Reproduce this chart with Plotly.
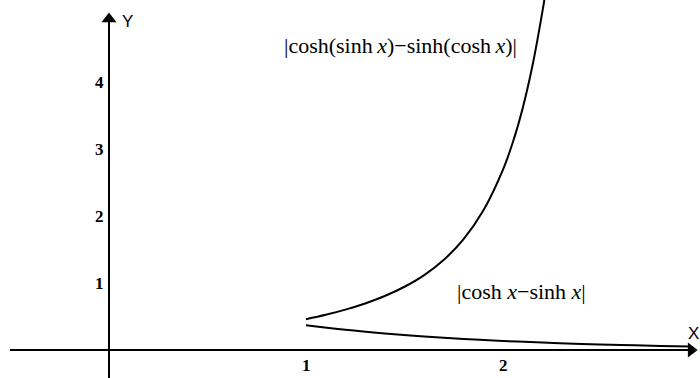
import plotly.graph_objects as go

# Curve data
x_upper = [1.0, 1.1, 1.2, 1.3, 1.4, 1.5, 1.6, 1.7, 1.8, 1.9, 2.0, 2.05, 2.1, 2.15, 2.2, 2.23]
y_upper = [0.459, 0.525, 0.603, 0.695, 0.806, 0.944, 1.118, 1.347, 1.655, 2.082, 2.693, 3.10, 3.61, 4.25, 5.05, 5.6]

x_lower = [1.0, 1.2, 1.4, 1.6, 1.8, 2.0, 2.2, 2.4, 2.6, 2.8, 2.95]
y_lower = [0.368, 0.301, 0.247, 0.202, 0.165, 0.135, 0.111, 0.091, 0.074, 0.061, 0.052]

x_ticks = [1, 2]
x_tick_labels = ["1", "2"]
y_ticks = [1, 2, 3, 4]
y_tick_labels = ["1", "2", "3", "4"]

label_upper = "|cosh(sinh\u2009<i>x</i>)\u2212sinh(cosh\u2009<i>x</i>)|"
label_lower = "|cosh <i>x</i>\u2212sinh <i>x</i>|"

X_MIN, X_MAX = -109 / 197, (700 - 109) / 197
Y_MIN, Y_MAX = (350 - 378) / 67, 350 / 67

fig = go.Figure()

# axes
fig.add_trace(go.Scatter(x=[-0.503, 2.955], y=[0, 0], mode="lines",
                         line=dict(color="black", width=2), hoverinfo="skip"))
fig.add_trace(go.Scatter(x=[0, 0], y=[Y_MIN, 4.95], mode="lines",
                         line=dict(color="black", width=2), hoverinfo="skip"))
# arrow heads
fig.add_trace(go.Scatter(x=[2.955], y=[0], mode="markers",
                         marker=dict(symbol="triangle-right", size=13, color="black"), hoverinfo="skip"))
fig.add_trace(go.Scatter(x=[0], y=[4.94], mode="markers",
                         marker=dict(symbol="triangle-up", size=13, color="black"), hoverinfo="skip"))

# curves
fig.add_trace(go.Scatter(x=x_upper, y=y_upper, mode="lines", line_shape="spline",
                         line=dict(color="black", width=2)))
fig.add_trace(go.Scatter(x=x_lower, y=y_lower, mode="lines", line_shape="spline",
                         line=dict(color="black", width=2)))

tick_font = dict(family="Liberation Serif", size=17, color="black")
for v, t in zip(x_ticks, x_tick_labels):
    fig.add_annotation(x=v, y=-0.224, text="<b>%s</b>" % t, showarrow=False, font=tick_font)
for v, t in zip(y_ticks, y_tick_labels):
    fig.add_annotation(x=-0.046, y=v, text="<b>%s</b>" % t, showarrow=False, font=tick_font)

axis_font = dict(family="Liberation Sans", size=17, color="black")
fig.add_annotation(x=0.095, y=4.9, text="Y", showarrow=False, font=axis_font)
fig.add_annotation(x=2.965, y=0.25, text="X", showarrow=False, font=axis_font)

label_font = dict(family="Liberation Serif", size=22, color="black")
fig.add_annotation(x=(400 - 109) / 197, y=(350 - 45) / 67, text=label_upper,
                   showarrow=False, font=label_font)
fig.add_annotation(x=(521 - 109) / 197, y=(350 - 291) / 67, text=label_lower,
                   showarrow=False, font=label_font)

fig.update_layout(
    width=700, height=378,
    margin=dict(l=0, r=0, t=0, b=0),
    paper_bgcolor="white", plot_bgcolor="white",
    showlegend=False,
    xaxis=dict(range=[X_MIN, X_MAX], visible=False, fixedrange=True),
    yaxis=dict(range=[Y_MIN, Y_MAX], visible=False, fixedrange=True),
)

fig.write_html("out.html", config={"displayModeBar": False},
               post_script="document.body.style.margin='0';")
